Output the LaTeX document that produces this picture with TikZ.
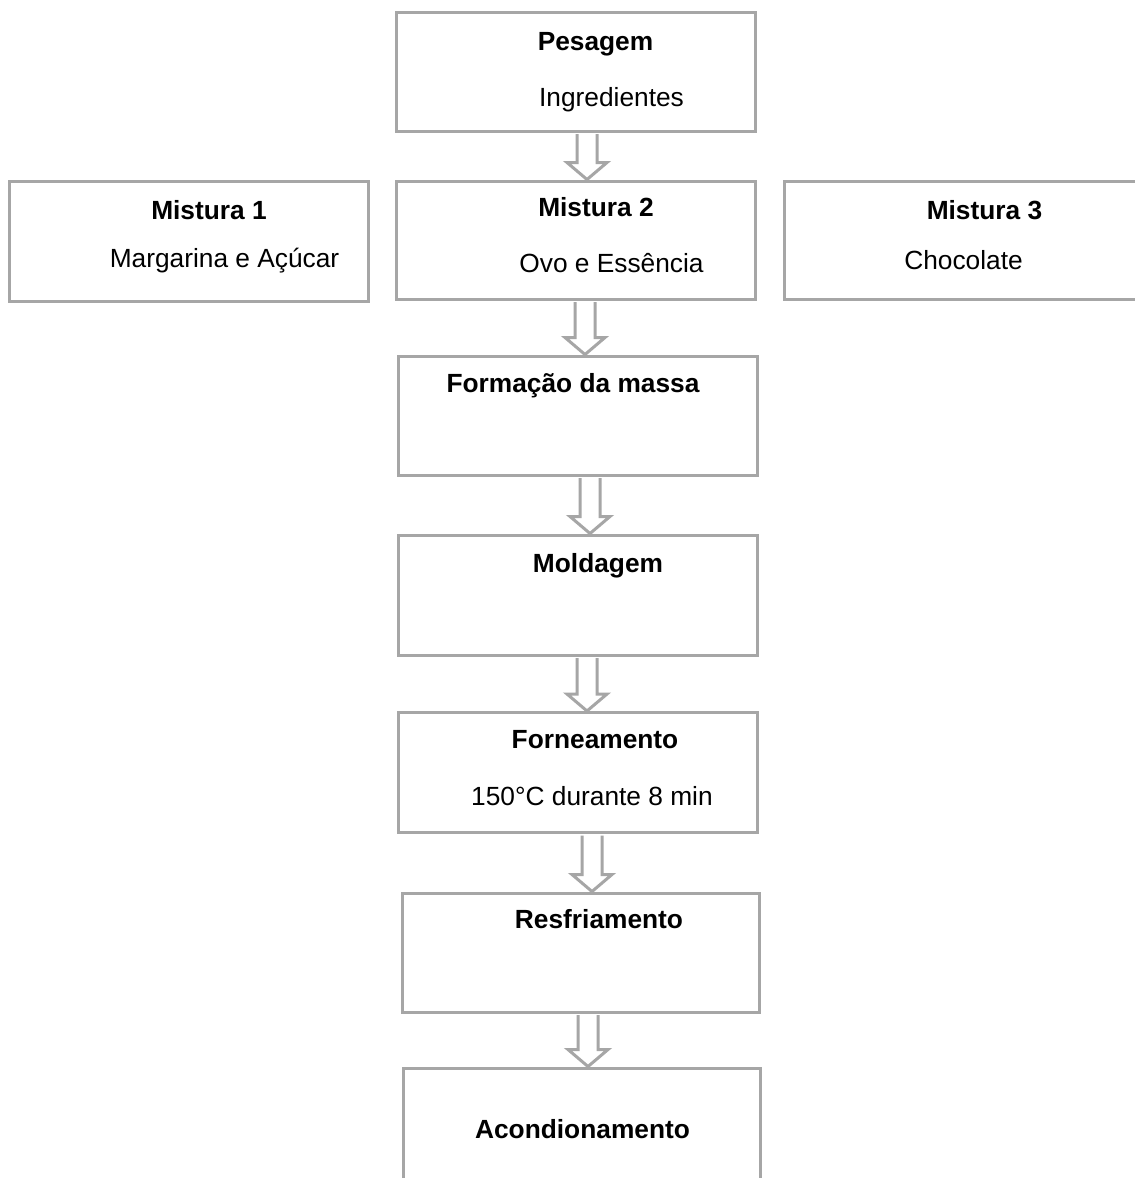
\documentclass[tikz,border=0pt]{standalone}
\usepackage{fontspec}
\setmainfont{Liberation Sans}
\usetikzlibrary{calc}
\definecolor{cinzaborda}{RGB}{166, 166, 166}

% seta em bloco vazada: #1 caixa de cima, #2 caixa de baixo, #3 desvio em x
\newcommand{\setabloco}[3]{%
  \draw[setavazada] let \p1=(#1.south), \p2=(#2.north) in
    (\x1+#3-10,\y1-1.5) -- (\x1+#3-10,\y2+17) -- (\x1+#3-20,\y2+17) -- (\x1+#3,\y2)
    -- (\x1+#3+20,\y2+17) -- (\x1+#3+10,\y2+17) -- (\x1+#3+10,\y1-1.5);}

\begin{document}
\begin{tikzpicture}[x=1pt, y=-1pt,
    caixa/.style={draw=cinzaborda, line width=3pt, fill=white, inner sep=0pt, minimum width=359pt},
    setavazada/.style={draw=cinzaborda, line width=3pt, fill=white, line join=miter},
    titulo/.style={anchor=base, inner sep=0pt, font=\fontsize{26.3}{31}\selectfont\bfseries},
    texto/.style={anchor=base, inner sep=0pt, font=\fontsize{26.3}{31}\selectfont}]
  \useasboundingbox (0,0) rectangle (1135,1178);
  \fill[white] (0,0) rectangle (1135,1178);
  % caixas
  \node[caixa, minimum height=119pt]                    (pesagem)  at (575.5,  71.5) {};
  \node[caixa, minimum height=120pt]                    (misturaA) at (188.5, 241.0) {};
  \node[caixa, minimum height=118pt]                    (misturaB) at (575.5, 240.0) {};
  \node[caixa, minimum height=118pt, minimum width=361pt] (misturaC) at (964.5, 240.0) {};
  \node[caixa, minimum height=119pt]                    (formacao) at (577.5, 415.5) {};
  \node[caixa, minimum height=120pt]                    (moldagem) at (577.5, 595.0) {};
  \node[caixa, minimum height=120pt]                    (forno)    at (577.5, 772.5) {};
  \node[caixa, minimum height=119pt, minimum width=357pt] (resfria)  at (580.5, 952.5) {};
  \node[caixa, minimum height=122pt, minimum width=357pt] (acondic)  at (581.5,1129.0) {};
  % textos
  \node[titulo] (tpesagem)  at (595.5,  50) {Pesagem};
  \node[texto]  (spesagem)  at (611.5, 106) {Ingredientes};
  \node[titulo] (tmisturaA) at (209.0, 219) {Mistura 1};
  \node[texto]  (smisturaA) at (224.5, 267) {Margarina e Açúcar};
  \node[titulo] (tmisturaB) at (596.0, 216) {Mistura 2};
  \node[texto]  (smisturaB) at (611.5, 272) {Ovo e Essência};
  \node[titulo] (tmisturaC) at (984.5, 219) {Mistura 3};
  \node[texto]  (smisturaC) at (963.5, 269) {Chocolate};
  \node[titulo] (tformacao) at (573.0, 392) {Formação da massa};
  \node[titulo] (tmoldagem) at (598.0, 572) {Moldagem};
  \node[titulo] (tforno)    at (595.0, 748) {Forneamento};
  \node[texto]  (sforno)    at (592.0, 805) {150°C durante 8 min};
  \node[titulo] (tresfria)  at (599.0, 928) {Resfriamento};
  \node[titulo] (tacondic)  at (582.5,1138) {Acondionamento};
  % setas
  \setabloco{pesagem}{misturaB}{11.5}
  \setabloco{misturaB}{formacao}{9.5}
  \setabloco{formacao}{moldagem}{12.5}
  \setabloco{moldagem}{forno}{9.5}
  \setabloco{forno}{resfria}{14.5}
  \setabloco{resfria}{acondic}{7.5}
\end{tikzpicture}
\end{document}
